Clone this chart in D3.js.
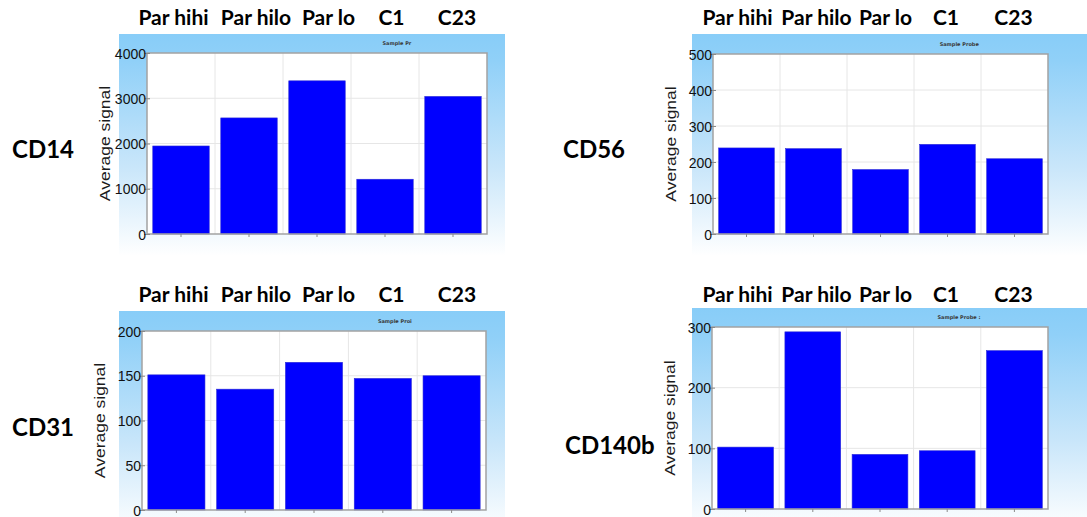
<!DOCTYPE html>
<html>
<head>
<meta charset="utf-8">
<script src="https://cdn.jsdelivr.net/npm/d3@7"></script>
<style>
  html, body { margin: 0; padding: 0; background: #ffffff; }
  svg { display: block; }
</style>
</head>
<body>
<svg id="chart" width="1087" height="517"></svg>
<script>
// Sample groups shown on every panel
const categories = ["Par hihi", "Par hilo", "Par lo", "C1", "C23"];

// Marker names, one panel each
const markers = ["CD14", "CD56", "CD31", "CD140b"];

// Average signal per sample group
const cd14Values   = [1945, 2565, 3385, 1210, 3040];
const cd56Values   = [239, 237, 179, 249, 209];
const cd31Values   = [151, 135, 165, 147, 150];
const cd140bValues = [102, 292, 90, 96, 261];

// Y-axis maxima and tick steps
const yMaxima    = [4000, 500, 200, 300];
const yStepSizes = [1000, 100, 50, 100];

// Small chart titles (cut off by the chart frame)
const chartTitles = ["Sample Pr", "Sample Probe", "Sample Proi", "Sample Probe :"];

const seriesValues = [cd14Values, cd56Values, cd31Values, cd140bValues];

// Panel layout: background frame, plot area, header row (label centres) and marker name
const leftHeader  = [173.5, 256, 328.5, 391.5, 457];
const rightHeader = [737.5, 816.5, 885.5, 946, 1013.5];
const layout = [
  { bg: [119, 34, 386, 222],  plot: [147, 53, 487, 234],  head: leftHeader,  headY: 25,  nameX: 12,  nameY: 158 },
  { bg: [692, 34, 395, 222],  plot: [713, 54, 1048, 234], head: rightHeader, headY: 25,  nameX: 563, nameY: 158 },
  { bg: [119, 311, 386, 222], plot: [142, 331, 486, 510], head: leftHeader,  headY: 302, nameX: 12,  nameY: 436 },
  { bg: [692, 308, 395, 222], plot: [712, 327, 1048, 509], head: rightHeader, headY: 302, nameX: 565, nameY: 454 }
];

const svg = d3.select("#chart");
const defs = svg.append("defs");

const grad = defs.append("linearGradient")
  .attr("id", "panelFill")
  .attr("x1", 0).attr("y1", 0).attr("x2", 0).attr("y2", 1);
grad.append("stop").attr("offset", "0").attr("stop-color", "#88cdf8");
grad.append("stop").attr("offset", "0.12").attr("stop-color", "#90d0f8");
grad.append("stop").attr("offset", "0.6").attr("stop-color", "#c9e6fa");
grad.append("stop").attr("offset", "1").attr("stop-color", "#ffffff");

markers.forEach((marker, i) => {
  const L = layout[i];
  const values = seriesValues[i];
  const [px0, py0, px1, py1] = L.plot;

  const g = svg.append("g");

  // gradient frame behind the plot
  g.append("rect")
    .attr("x", L.bg[0]).attr("y", L.bg[1])
    .attr("width", L.bg[2]).attr("height", L.bg[3])
    .attr("fill", "url(#panelFill)");

  const x = d3.scaleBand()
    .domain(categories)
    .range([px0, px1])
    .paddingInner(0.17)
    .paddingOuter(0.085);

  const y = d3.scaleLinear()
    .domain([0, yMaxima[i]])
    .range([py1, py0]);

  const ticks = d3.range(0, yMaxima[i] + 1, yStepSizes[i]);

  // white plot area
  g.append("rect")
    .attr("x", px0).attr("y", py0)
    .attr("width", px1 - px0).attr("height", py1 - py0)
    .attr("fill", "#ffffff");

  // grid lines
  g.append("g").selectAll("line")
    .data(ticks.slice(1, -1))
    .join("line")
    .attr("x1", px0).attr("x2", px1)
    .attr("y1", d => y(d)).attr("y2", d => y(d))
    .attr("stroke", "#e6e6e6").attr("stroke-width", 1);

  const step = x.step();
  g.append("g").selectAll("line")
    .data(categories.slice(1))
    .join("line")
    .attr("x1", d => x(d) - step * x.paddingInner() / 2)
    .attr("x2", d => x(d) - step * x.paddingInner() / 2)
    .attr("y1", py0).attr("y2", py1)
    .attr("stroke", "#e6e6e6").attr("stroke-width", 1);

  // bars
  g.append("g").selectAll("rect")
    .data(values)
    .join("rect")
    .attr("x", (d, j) => x(categories[j]))
    .attr("y", d => y(d))
    .attr("width", x.bandwidth())
    .attr("height", d => y(0) - y(d))
    .attr("fill", "#0000ff")
    .attr("stroke", "#2a2ad8")
    .attr("stroke-width", 0.6);

  // plot frame
  g.append("rect")
    .attr("x", px0).attr("y", py0)
    .attr("width", px1 - px0).attr("height", py1 - py0)
    .attr("fill", "none")
    .attr("stroke", "#a2a2a2").attr("stroke-width", 1.5);

  // y axis
  const yAxis = g.append("g")
    .attr("transform", `translate(${px0},0)`)
    .call(d3.axisLeft(y).tickValues(ticks).tickFormat(d3.format("d")).tickSize(0).tickPadding(0));
  yAxis.select(".domain").remove();
  yAxis.selectAll(".tick line")
    .attr("x1", -3).attr("x2", 3)
    .attr("stroke", "#8a8a8a").attr("stroke-width", 1);
  yAxis.selectAll(".tick text")
    .attr("x", -1)
    .attr("dy", "0.36em")
    .attr("fill", "#111111")
    .style("font-family", "'Liberation Sans', Arial, sans-serif")
    .style("font-size", "14px");

  // small ticks under each bar
  const xAxis = g.append("g")
    .attr("transform", `translate(0,${py1})`)
    .call(d3.axisBottom(x).tickSize(3).tickFormat(""));
  xAxis.select(".domain").remove();
  xAxis.selectAll(".tick line").attr("stroke", "#8a8a8a");

  // y axis title
  g.append("text")
    .attr("transform", `translate(${px0 - 42},${(py0 + py1) / 2}) scale(0.85,1) rotate(-90)`)
    .attr("text-anchor", "middle")
    .attr("dominant-baseline", "central")
    .attr("fill", "#1c1c1c")
    .style("font-family", "'Liberation Sans', Arial, sans-serif")
    .style("font-size", "17.5px")
    .text("Average signal");

  // small chart title in the header strip
  g.append("text")
    .attr("x", px0 + (px1 - px0) * 0.735)
    .attr("y", py0 - 8)
    .attr("text-anchor", "middle")
    .attr("fill", "#3a3a3a")
    .style("font-family", "'DejaVu Sans', sans-serif")
    .style("font-size", "5px")
    .style("font-weight", "bold")
    .text(chartTitles[i]);

  // group names above the panel
  g.append("g").selectAll("text")
    .data(categories)
    .join("text")
    .attr("x", (d, j) => L.head[j])
    .attr("y", L.headY)
    .attr("text-anchor", "middle")
    .attr("fill", "#000000")
    .style("font-family", "Lato, 'Open Sans', sans-serif")
    .style("font-weight", "bold")
    .style("font-size", "21px")
    .text(d => d);

  // marker name on the left
  g.append("text")
    .attr("x", L.nameX)
    .attr("y", L.nameY)
    .attr("fill", "#000000")
    .style("font-family", "Lato, 'Open Sans', sans-serif")
    .style("font-weight", "bold")
    .style("font-size", "24px")
    .text(marker);
});
</script>
</body>
</html>
